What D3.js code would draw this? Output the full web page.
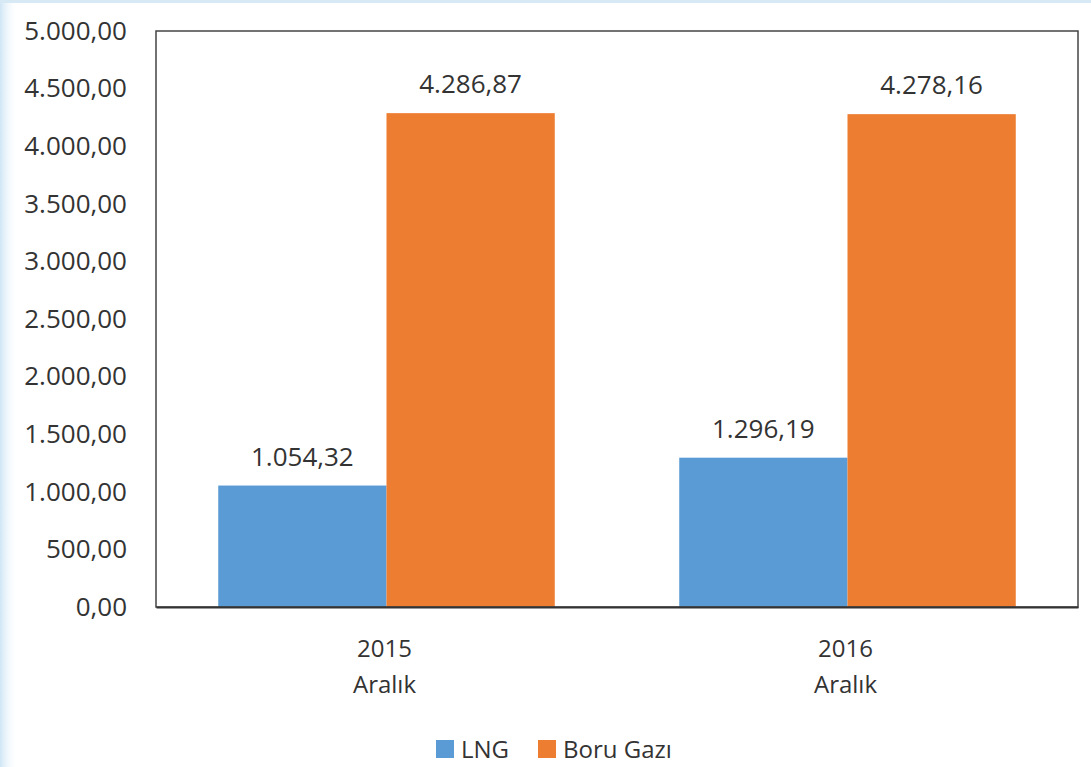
<!DOCTYPE html>
<html><head><meta charset="utf-8">
<script src="https://cdn.jsdelivr.net/npm/d3@7"></script>
<style>body{margin:0;background:#fff;}svg{display:block;}</style>
</head><body>
<svg id="c" width="1091" height="767"></svg>
<script>
const categories = [["2015","Aralık"],["2016","Aralık"]];
const seriesNames = ["LNG","Boru Gazı"];
const lngValues = [1054.32, 1296.19];
const boruValues = [4286.87, 4278.16];
const yTicks = [0,500,1000,1500,2000,2500,3000,3500,4000,4500,5000];
const colors = ["#5b9bd5","#ed7d31"];

const svg = d3.select("#c");
const W=1091,H=767;
const m={l:156,r:1078,t:31,b:607};
const font = "'Open Sans', 'Noto Sans', sans-serif";

// decorative background
const defs = svg.append("defs");
const g1 = defs.append("linearGradient").attr("id","lg").attr("x1",0).attr("x2",1);
g1.append("stop").attr("offset",0).attr("stop-color","#cfe6f5");
g1.append("stop").attr("offset",1).attr("stop-color","#ffffff").attr("stop-opacity",0);
svg.append("rect").attr("x",0).attr("y",0).attr("width",18).attr("height",H).attr("fill","url(#lg)");
svg.append("rect").attr("x",0).attr("y",0).attr("width",W).attr("height",3).attr("fill","#d6e9f5");

const fmt = v => {
  const s = v.toFixed(2).split(".");
  return s[0].replace(/\B(?=(\d{3})+(?!\d))/g,".")+","+s[1];
};

const x0 = d3.scaleBand().domain(categories.map(d=>d[0])).range([m.l,m.r]).paddingInner(0.27).paddingOuter(0.135);
const x1 = d3.scaleBand().domain(seriesNames).range([0,x0.bandwidth()]);
const y = d3.scaleLinear().domain([0,5000]).range([m.b,m.t]);

// y axis labels
const yAxis = d3.axisLeft(y).tickValues(yTicks).tickFormat(fmt).tickSize(0).tickPadding(0);
const ya = svg.append("g").attr("transform",`translate(127,0)`).call(yAxis);
ya.select(".domain").remove();
ya.selectAll("text").attr("font-family",font).attr("font-size",26).attr("fill","#333");

const data = [lngValues, boruValues];
seriesNames.forEach((s,si)=>{
  const g = svg.append("g");
  g.selectAll("rect").data(categories).join("rect")
    .attr("x",(d)=>x0(d[0])+x1(s))
    .attr("y",(d,i)=>y(data[si][i]))
    .attr("width",x1.bandwidth())
    .attr("height",(d,i)=>y(0)-y(data[si][i]))
    .attr("fill",colors[si]);
  g.selectAll("text").data(categories).join("text")
    .attr("x",(d)=>x0(d[0])+x1(s)+x1.bandwidth()/2)
    .attr("y",(d,i)=>y(data[si][i])-20)
    .attr("text-anchor","middle")
    .attr("font-family",font).attr("font-size",26).attr("fill","#333")
    .text((d,i)=>fmt(data[si][i]));
});

// frame
svg.append("rect").attr("x",m.l).attr("y",m.t).attr("width",m.r-m.l).attr("height",m.b-m.t)
  .attr("fill","none").attr("stroke","#444").attr("stroke-width",1.5);

// x axis
const xAxis = d3.axisBottom(x0).tickSize(0).tickPadding(0).tickFormat(()=> "");
const xa = svg.append("g").attr("transform",`translate(0,${m.b})`).call(xAxis);
xa.select(".domain").attr("stroke","#333").attr("stroke-width",2);
xa.selectAll(".tick").each(function(d){
  const c = categories.find(k=>k[0]===d);
  const t = d3.select(this);
  t.select("text").remove();
  t.append("text").attr("x",-2).attr("y",50).attr("text-anchor","middle").attr("font-family",font).attr("font-size",24).attr("fill","#333").text(c[0]);
  t.append("text").attr("x",-2).attr("y",86).attr("text-anchor","middle").attr("font-family",font).attr("font-size",24).attr("fill","#333").text(c[1]);
});

// legend
const leg = svg.append("g");
const legX = [436, 538];
seriesNames.forEach((s,i)=>{
  leg.append("rect").attr("x",legX[i]).attr("y",740).attr("width",18).attr("height",18).attr("fill",colors[i]);
  leg.append("text").attr("x",legX[i]+25).attr("y",758).attr("font-family",font).attr("font-size",24).attr("fill","#333").text(s);
});
</script>
</body></html>
